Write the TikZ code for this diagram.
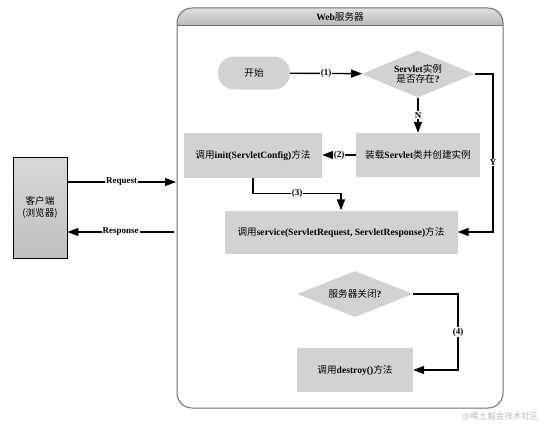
\documentclass[tikz,border=0pt]{standalone}
\usepackage{fontspec}
\setmainfont{Liberation Serif}
\newfontfamily\cjk{Noto Sans CJK SC}
\usetikzlibrary{shapes.geometric,arrows.meta}
\newcommand{\zh}[1]{{\cjk\mdseries #1}}
\definecolor{boxgray}{HTML}{D2D2D2}
\definecolor{framegray}{HTML}{6E6E6E}
\tikzset{
  box/.style={draw=none, fill=boxgray, align=center, inner sep=2pt},
  dia/.style={diamond, draw=none, fill=boxgray, align=center, inner sep=0pt, aspect=2.4},
  pill/.style={draw=none, fill=boxgray, rounded corners=16pt},
  arr/.style={line width=1.4pt, -{Triangle[length=11pt,width=8pt]}},
  lbl/.style={fill=white, inner sep=1pt, font=\bfseries\fontsize{9}{10}\selectfont},
}
\begin{document}
\begin{tikzpicture}[x=1pt,y=-1pt, font=\bfseries\fontsize{9.6}{11.5}\selectfont]
\useasboundingbox (0,0) rectangle (545,428);
% container
\begin{scope}
\clip[rounded corners=15pt] (177,8) rectangle (503,408);
\shade[top color=gray!25, bottom color=gray!55] (177,8) rectangle (503,26);
\end{scope}
\draw[framegray, line width=1pt] (177,26) -- (503,26);
\draw[framegray, line width=1pt, rounded corners=15pt] (177,8) rectangle (503,408);
\node (title) at (340,17) {Web\zh{服务器}};
% nodes
\node[pill, minimum width=72pt, minimum height=33pt] (start) at (254,73) {\zh{开始}};
\node[dia, minimum width=113pt, minimum height=47pt] (exist) at (418,74) {Servlet\zh{实例}\\[-1pt]\zh{是否存在}?};
\node[box, minimum width=124pt, minimum height=44pt] (load) at (418,155) {\zh{装载}Servlet\zh{类并创建实例}};
\node[box, minimum width=138pt, minimum height=45pt] (init) at (253,155) {\zh{调用}init(ServletConfig)\zh{方法}};
\node[box, minimum width=233pt, minimum height=43pt] (service) at (341,232) {\zh{调用}service(ServletRequest, ServletResponse)\zh{方法}};
\node[dia, minimum width=116pt, minimum height=46pt] (close) at (355,294) {\zh{服务器关闭}?};
\node[box, minimum width=116pt, minimum height=44pt] (destroy) at (355,370) {\zh{调用}destroy()\zh{方法}};
\node[draw=black, line width=0.8pt, top color=gray!30, bottom color=gray!50, minimum width=54pt, minimum height=101pt, align=center] (client) at (40,207.5) {\zh{客户端}\\\zh{(浏览器)}};
% connectors
\coordinate (ycorner) at (493,74);
\coordinate (fourcorner) at (458,294);
\coordinate (reqend) at (176,182);
\coordinate (respstart) at (174,232);
\draw[arr] (start) -- node[lbl]{(1)} (exist);
\draw[arr] (exist.east) -- (ycorner) |- node[lbl, pos=0.28]{Y} (service.east);
\draw[arr] (exist.south) -- node[lbl]{N} (load.north);
\draw[arr] (load) -- node[lbl]{(2)} (init);
\draw[arr] (init.south) -- ++(0,16) -| node[lbl, pos=0.25]{(3)} (service.north);
\draw[arr] (close.east) -- (fourcorner) |- node[lbl, pos=0.25]{(4)} (destroy.east);
\draw[arr] (client.east |- reqend) -- node[lbl]{Request} (reqend);
\draw[arr] (respstart) -- node[lbl]{Response} (client.east |- respstart);
% watermark
\node[anchor=east, text=gray!55, font=\cjk\fontsize{8.5}{9}\selectfont] (wm) at (542,417) {@稀土掘金技术社区};
\end{tikzpicture}
\end{document}
